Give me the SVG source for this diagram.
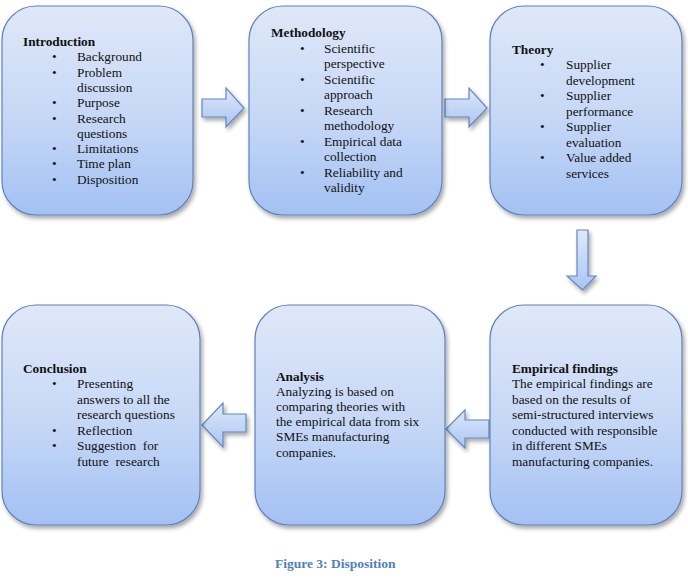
<svg xmlns="http://www.w3.org/2000/svg" width="688" height="584" viewBox="0 0 688 584">
<defs>
<linearGradient id="g" x1="0" y1="0" x2="0" y2="1">
<stop offset="0" stop-color="#dfe8f8"/>
<stop offset="0.55" stop-color="#c5d7f6"/>
<stop offset="1" stop-color="#a3c1f3"/>
</linearGradient>
<linearGradient id="ga" x1="0" y1="0" x2="0" y2="1">
<stop offset="0" stop-color="#dfe8f8"/>
<stop offset="1" stop-color="#a9c5f3"/>
</linearGradient>
<filter id="sh" x="-10%" y="-10%" width="125%" height="125%">
<feGaussianBlur in="SourceAlpha" stdDeviation="2"/>
<feOffset dx="1.5" dy="3" result="b"/>
<feComponentTransfer><feFuncA type="linear" slope="0.35"/></feComponentTransfer>
<feMerge><feMergeNode/><feMergeNode in="SourceGraphic"/></feMerge>
</filter>
</defs>
<style>
.box{fill:url(#g);stroke:#5f82bc;stroke-width:1.2;filter:url(#sh)}
.arr{fill:url(#ga);stroke:#6387c0;stroke-width:1.2;filter:url(#sh)}
text{font-family:"Liberation Serif","Times New Roman",serif;font-size:13.3px;fill:#111}
.t{font-weight:bold}
.cap{font-weight:bold;fill:#4f81bd;font-size:13.5px}
</style>
<g id="connectors">
<path class="arr" d="M202,99 H226 V88 L244,108 L226,127 V117 H202 Z"/>
<path class="arr" d="M445,99 H469 V88 L487,108 L469,127 V117 H445 Z"/>
<path class="arr" d="M577,230 H588 V276 H596 L582.5,290 L567,276 H577 Z"/>
<path class="arr" d="M489,420 H465 V410 L446,429 L465,448 V438 H489 Z"/>
<path class="arr" d="M246,414 H223 V403 L202,425 L223,447 V432 H246 Z"/>
</g>
<g id="introduction">
<rect class="box" x="2" y="6" width="191" height="209" rx="34"/>
<text class="t" x="23" y="46">Introduction</text>
<text x="52" y="61.3">•</text><text x="77" y="61.3">Background</text>
<text x="52" y="76.6">•</text><text x="77" y="76.6">Problem</text>
<text x="77" y="91.9">discussion</text>
<text x="52" y="107.2">•</text><text x="77" y="107.2">Purpose</text>
<text x="52" y="122.5">•</text><text x="77" y="122.5">Research</text>
<text x="77" y="137.8">questions</text>
<text x="52" y="153.1">•</text><text x="77" y="153.1">Limitations</text>
<text x="52" y="168.4">•</text><text x="77" y="168.4">Time plan</text>
<text x="52" y="183.7">•</text><text x="77" y="183.7">Disposition</text>
</g>
<g id="methodology">
<rect class="box" x="249" y="6" width="193" height="209" rx="34"/>
<text class="t" x="271" y="37">Methodology</text>
<text x="300" y="52.5">•</text><text x="324" y="52.5">Scientific</text>
<text x="324" y="68">perspective</text>
<text x="300" y="83.5">•</text><text x="324" y="83.5">Scientific</text>
<text x="324" y="99">approach</text>
<text x="300" y="114.5">•</text><text x="324" y="114.5">Research</text>
<text x="324" y="130">methodology</text>
<text x="300" y="145.5">•</text><text x="324" y="145.5">Empirical data</text>
<text x="324" y="161">collection</text>
<text x="300" y="176.5">•</text><text x="324" y="176.5">Reliability and</text>
<text x="324" y="192">validity</text>
</g>
<g id="theory">
<rect class="box" x="490" y="6" width="192" height="209" rx="34"/>
<text class="t" x="512" y="53.5">Theory</text>
<text x="540" y="69">•</text><text x="566" y="69">Supplier</text>
<text x="566" y="84.5">development</text>
<text x="540" y="100">•</text><text x="566" y="100">Supplier</text>
<text x="566" y="115.5">performance</text>
<text x="540" y="131">•</text><text x="566" y="131">Supplier</text>
<text x="566" y="146.5">evaluation</text>
<text x="540" y="162">•</text><text x="566" y="162">Value added</text>
<text x="566" y="177.5">services</text>
</g>
<g id="conclusion">
<rect class="box" x="2" y="305" width="198" height="220" rx="34"/>
<text class="t" x="23" y="372.5">Conclusion</text>
<text x="52" y="388">•</text><text x="77" y="388">Presenting</text>
<text x="77" y="403.5">answers to all the</text>
<text x="77" y="419">research questions</text>
<text x="52" y="434.5">•</text><text x="77" y="434.5">Reflection</text>
<text x="52" y="450">•</text><text x="77" y="450" xml:space="preserve">Suggestion  for</text>
<text x="77" y="465.5" xml:space="preserve">future  research</text>
</g>
<g id="analysis">
<rect class="box" x="255" y="305" width="190" height="220" rx="34"/>
<text class="t" x="276" y="380.5">Analysis</text>
<text x="276" y="395.7">Analyzing is based on</text>
<text x="276" y="410.9">comparing theories with</text>
<text x="276" y="426.1">the empirical data from six</text>
<text x="276" y="441.3">SMEs manufacturing</text>
<text x="276" y="456.5">companies.</text>
</g>
<g id="empirical">
<rect class="box" x="490" y="305" width="192" height="220" rx="34"/>
<text class="t" x="512" y="372.7">Empirical findings</text>
<text x="512" y="388.2">The empirical findings are</text>
<text x="512" y="403.7">based on the results of</text>
<text x="512" y="419.2">semi-structured interviews</text>
<text x="512" y="434.7">conducted with responsible</text>
<text x="512" y="450.2">in different SMEs</text>
<text x="512" y="465.7">manufacturing companies.</text>
</g>
<text class="cap" x="275" y="568">Figure 3: Disposition</text>
</svg>
